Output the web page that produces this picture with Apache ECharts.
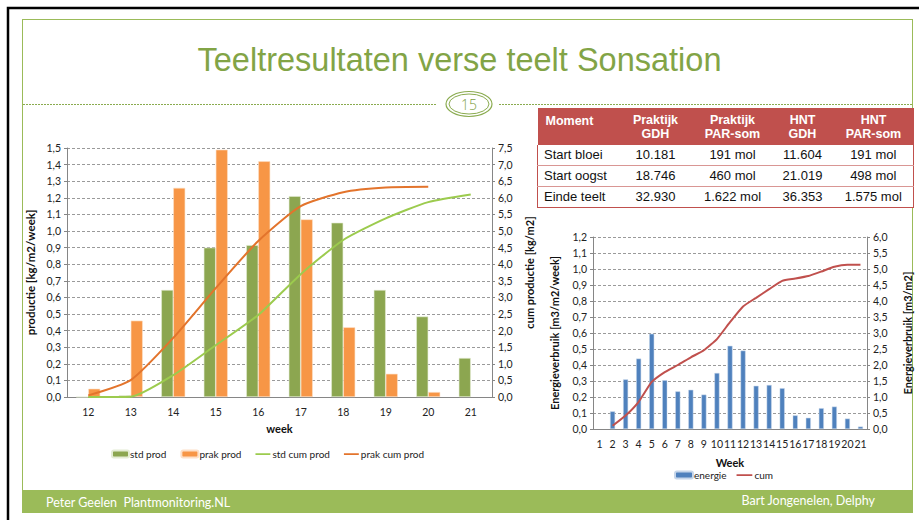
<!DOCTYPE html>
<html>
<head>
<meta charset="utf-8">
<script src="https://cdn.jsdelivr.net/npm/echarts@6/dist/echarts.min.js"></script>
<style>
  body { margin: 0; width: 919px; height: 520px; background: #fff; overflow: hidden; position: relative; font-family: "Liberation Sans", Arial, sans-serif; }
  .abs { position: absolute; }
  #main { position: absolute; left: 0; top: 0; width: 919px; height: 520px; }
  #title { left: 0; width: 919px; top: 42px; text-align: center; font-size: 32.5px; line-height: 36px; color: #82a446; }
  #tbl { left: 537px; top: 108px; border-collapse: collapse; font-size: 13px; table-layout: fixed; }
  #tbl th { background: #c0504d; color: #fff; font-weight: bold; font-size: 12.5px; line-height: 14px; height: 37px; padding: 0; vertical-align: middle; text-align: center; }
  #tbl th:first-child { text-align: left; padding-left: 8px; vertical-align: top; padding-top: 6px; height: 31px; }
  #tbl td { height: 20px; line-height: 20px; padding: 0; text-align: center; color: #111; border-bottom: 1px solid #d99694; background: #fff; }
  #tbl td:first-child { text-align: left; padding-left: 6px; }
  #tbl tr td:first-child { border-left: 1px solid #c0504d; }
  #tbl tr td:last-child { border-right: 1px solid #c0504d; }
  #tbl tr:last-child td { border-bottom: 1px solid #c0504d; }
  .foot { color: #fff; font-family: Lato, "Open Sans", sans-serif; font-size: 12.5px; line-height: 16px; }
</style>
</head>
<body>
<svg class="abs" style="left:0;top:0" width="919" height="520">
  <rect x="8" y="8" width="920" height="520" fill="none" stroke="#000" stroke-width="2.5"/>
  <rect x="22.5" y="19.5" width="890" height="471" fill="none" stroke="#9bbb59" stroke-width="1"/>
  <rect x="22" y="490" width="891" height="23" fill="#9bbb59"/>
  <line x1="23" y1="104.5" x2="437" y2="104.5" stroke="#8aab4f" stroke-width="1" stroke-dasharray="2,1"/>
  <line x1="499" y1="104.5" x2="912" y2="104.5" stroke="#8aab4f" stroke-width="1" stroke-dasharray="2,1"/>
  <ellipse cx="469" cy="104" rx="23" ry="12.5" fill="#fff" stroke="#8aab4f" stroke-width="1.2"/>
  <ellipse cx="469" cy="104" rx="20" ry="10" fill="none" stroke="#8aab4f" stroke-width="1"/>
  <text x="469" y="109.5" text-anchor="middle" font-family="'Open Sans', Lato, sans-serif" font-size="14" font-weight="300" fill="#7d9e42">15</text>
</svg>
<div id="title" class="abs">Teeltresultaten verse teelt Sonsation</div>
<div id="main"></div>
<table id="tbl" class="abs"></table>
<div class="abs foot" style="left:46px;top:495px;">Peter Geelen&nbsp; Plantmonitoring.NL</div>
<div class="abs foot" style="right:44px;top:493px;">Bart Jongenelen, Delphy</div>
<script>
// productie per week (links)
const prodWeeks = ['12', '13', '14', '15', '16', '17', '18', '19', '20', '21'];
const stdProd = [0, 0.01, 0.645, 0.90, 0.915, 1.21, 1.05, 0.645, 0.485, 0.235];
const prakProd = [0.05, 0.46, 1.26, 1.49, 1.42, 1.07, 0.42, 0.14, 0.03, null];
const stdCum = [0, 0.01, 0.66, 1.56, 2.47, 3.70, 4.73, 5.38, 5.87, 6.10];
const prakCum = [0.05, 0.51, 1.78, 3.28, 4.70, 5.75, 6.17, 6.31, 6.33, null];

// energieverbruik (rechts)
const energyWeeks = ['1', '2', '3', '4', '5', '6', '7', '8', '9', '10', '11', '12', '13', '14', '15', '16', '17', '18', '19', '20', '21'];
const energie = [null, 0.11, 0.31, 0.44, 0.595, 0.305, 0.235, 0.245, 0.215, 0.35, 0.52, 0.49, 0.27, 0.275, 0.255, 0.085, 0.07, 0.13, 0.14, 0.065, 0.015];
const energieCum = [null, 0.1, 0.42, 0.85, 1.47, 1.78, 2.0, 2.24, 2.46, 2.81, 3.34, 3.83, 4.1, 4.37, 4.63, 4.7, 4.78, 4.92, 5.07, 5.13, 5.13];

// tabel
const tableHead = ['Moment', 'Praktijk<br>GDH', 'Praktijk<br>PAR-som', 'HNT<br>GDH', 'HNT<br>PAR-som'];
const tableRows = [
  ['Start bloei', '10.181', '191 mol', '11.604', '191 mol'],
  ['Start oogst', '18.746', '460 mol', '21.019', '498 mol'],
  ['Einde teelt', '32.930', '1.622 mol', '36.353', '1.575 mol']
];
const colWidths = [80, 76, 78, 62, 80];

let html = '<colgroup>' + colWidths.map(w => '<col style="width:' + w + 'px">').join('') + '</colgroup>';
html += '<tr>' + tableHead.map(h => '<th>' + h + '</th>').join('') + '</tr>';
tableRows.forEach(r => { html += '<tr>' + r.map(c => '<td>' + c + '</td>').join('') + '</tr>'; });
document.getElementById('tbl').innerHTML = html;

const fmt = v => v.toFixed(1).replace('.', ',');
const font = 'Lato, "Open Sans", sans-serif';
const axisGray = '#868686';
const lbl = { fontSize: 10.5, color: '#222', fontFamily: font };
// legend-icoon voor lijnen: dun streepje
const lineIcon = 'path://M0,0L0.01,0ZM0,3H17V5H0ZM17,8L16.99,8Z';

function yAx(grid, max, interval, name, gap, pos, split, nameSize) {
  return {
    type: 'value', gridIndex: grid, min: 0, max: max, interval: interval, position: pos,
    name: name, nameLocation: 'middle', nameGap: gap, nameRotate: 90,
    nameTextStyle: { fontSize: nameSize, fontWeight: 'bold', color: '#111', fontFamily: font },
    axisLine: { show: true, lineStyle: { color: axisGray } },
    axisTick: { show: true, length: 3, lineStyle: { color: axisGray } },
    axisLabel: Object.assign({ formatter: fmt, margin: 6 }, lbl),
    splitLine: { show: split, lineStyle: { color: '#9a9a9a', type: [3, 2] } }
  };
}

const myChart = echarts.init(document.getElementById('main'), null, { renderer: 'svg' });
const option = {
  animation: false,
  grid: [
    { left: 67, right: 427, top: 148, bottom: 123 },
    { left: 593, right: 52, top: 237, bottom: 91 }
  ],
  legend: [
    { left: 106, top: 444, itemWidth: 17, itemHeight: 7, itemGap: 14,
      textStyle: { fontSize: 10, color: '#222', fontFamily: font, padding: [0, 0, 0, -4] },
      data: [
        { name: 'std prod' }, { name: 'prak prod' },
        { name: 'std cum prod', icon: lineIcon }, { name: 'prak cum prod', icon: lineIcon }
      ] },
    { left: 669, top: 465, itemWidth: 18, itemHeight: 7, itemGap: 10,
      textStyle: { fontSize: 10, color: '#222', fontFamily: font, padding: [0, 0, 0, -4] },
      data: [{ name: 'energie' }, { name: 'cum', icon: 'path://M0,0L0.01,0ZM0,3H18V5H0ZM18,8L17.99,8Z' }] }
  ],
  xAxis: [
    { type: 'category', gridIndex: 0, data: prodWeeks, name: 'week', nameLocation: 'middle', nameGap: 26,
      nameTextStyle: { fontSize: 11, fontWeight: 'bold', color: '#111', fontFamily: font },
      axisLine: { lineStyle: { color: axisGray } }, axisTick: { length: 4, lineStyle: { color: axisGray } },
      axisLabel: Object.assign({ margin: 9 }, lbl) },
    { type: 'category', gridIndex: 1, data: energyWeeks, name: 'Week', nameLocation: 'middle', nameGap: 28,
      nameTextStyle: { fontSize: 11, fontWeight: 'bold', color: '#111', fontFamily: font },
      axisLine: { lineStyle: { color: axisGray } }, axisTick: { length: 4, lineStyle: { color: axisGray } },
      axisLabel: Object.assign({ margin: 9, interval: 0 }, lbl) }
  ],
  yAxis: [
    yAx(0, 1.5, 0.1, 'productie [kg/m2/week]', 31, 'left', true, 11.5),
    yAx(0, 7.5, 0.5, 'cum productie [kg/m2]', 32, 'right', false, 11),
    yAx(1, 1.2, 0.1, 'Energieverbruik [m3/m2/week]', 33, 'left', true, 11),
    yAx(1, 6.0, 0.5, 'Energieverbruik [m3/m2]', 35, 'right', false, 11)
  ],
  series: [
    { name: 'std prod', type: 'bar', xAxisIndex: 0, yAxisIndex: 0, data: stdProd, barWidth: 12, barGap: '0%',
      itemStyle: { color: '#8ca650', borderColor: '#e4ecd4', borderWidth: 0.6 } },
    { name: 'prak prod', type: 'bar', xAxisIndex: 0, yAxisIndex: 0, data: prakProd, barWidth: 12, barGap: '0%',
      itemStyle: { color: '#f79646', borderColor: '#fde0c8', borderWidth: 0.6 } },
    { name: 'std cum prod', type: 'line', xAxisIndex: 0, yAxisIndex: 1, data: stdCum, symbol: 'none', smooth: 0.2,
      lineStyle: { color: '#9ccb4e', width: 2 }, itemStyle: { color: '#9ccb4e' } },
    { name: 'prak cum prod', type: 'line', xAxisIndex: 0, yAxisIndex: 1, data: prakCum, symbol: 'none', smooth: 0.2,
      lineStyle: { color: '#e3742c', width: 2 }, itemStyle: { color: '#e3742c' } },
    { name: 'energie', type: 'bar', xAxisIndex: 1, yAxisIndex: 2, data: energie, barWidth: 5,
      itemStyle: { color: '#4f81bd', borderColor: '#c6d6ea', borderWidth: 0.5 } },
    { name: 'cum', type: 'line', xAxisIndex: 1, yAxisIndex: 3, data: energieCum, symbol: 'none', smooth: 0.15,
      lineStyle: { color: '#c0504d', width: 2 }, itemStyle: { color: '#c0504d' } }
  ]
};
myChart.setOption(option);
</script>
</body>
</html>
